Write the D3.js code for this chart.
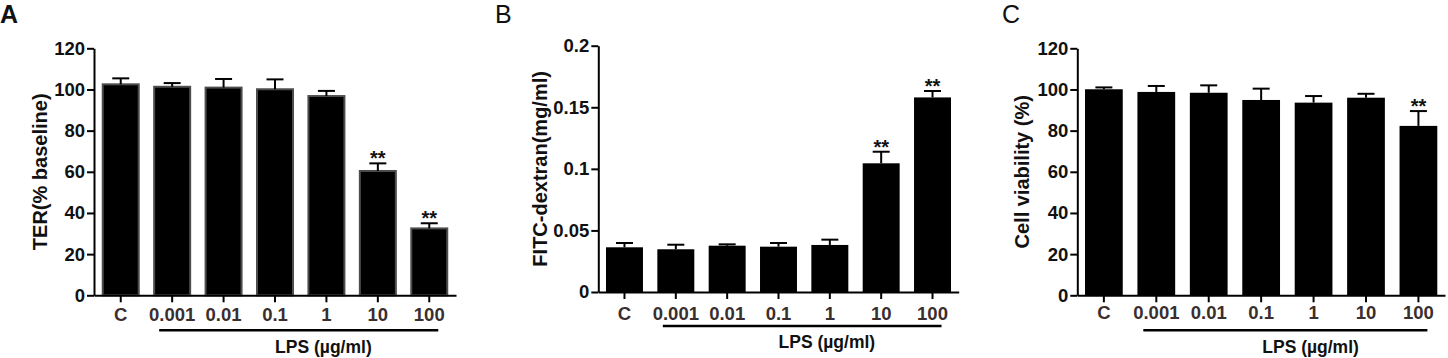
<!DOCTYPE html>
<html>
<head>
<meta charset="utf-8">
<script src="https://cdn.jsdelivr.net/npm/d3@7"></script>
<style>
  body { margin: 0; background: #fff; }
  text { font-family: "Liberation Sans", Arial, sans-serif; }
</style>
</head>
<body>
<div class="canvas"></div>
<script>
// groups on the x axis
const categories = ["C", "0.001", "0.01", "0.1", "1", "10", "100"]

// A: TER (% baseline), mean and SEM
const terMean = [102.5, 101.3, 100.9, 100.1, 96.8, 60.4, 32.5]
const terErr = [2.9, 1.8, 4.2, 4.8, 2.5, 3.7, 2.5]
const terSig = ["", "", "", "", "", "**", "**"]

// B: FITC-dextran (mg/ml)
const fitcMean = [0.0363, 0.0347, 0.0376, 0.0368, 0.0382, 0.1045, 0.158]
const fitcErr = [0.0035, 0.0037, 0.0011, 0.003, 0.0043, 0.0094, 0.0052]
const fitcSig = ["", "", "", "", "", "**", "**"]

// C: cell viability (%)
const viaMean = [100.1, 98.8, 98.4, 94.9, 93.6, 96.0, 82.3]
const viaErr = [0.9, 2.9, 3.6, 5.5, 3.2, 1.9, 7.2]
const viaSig = ["", "", "", "", "", "", "**"]

const yTicksPct = [0, 20, 40, 60, 80, 100, 120]
const yTicksFitc = [0, 0.05, 0.1, 0.15, 0.2]

const svg = d3.select(".canvas")
    .append("svg")
    .attr("width", 1448)
    .attr("height", 358)

svg.append("rect").attr("width", 1448).attr("height", 358).attr("fill", "#fff")

const panels = [
    { letter: "A", lx: 0, bold: true, x0: 94, x1: 456, top: 48.3, bottom: 295.3, ymax: 120,
      ticks: yTicksPct, mean: terMean, err: terErr, sig: terSig, title: "TER(% baseline)", tx: 40,
      pi: 0.3, po: 0.17, pad: 6, lineDy: 35, lpsDy: 51.5, barStroke: "#4d4d4d" },
    { letter: "B", lx: 495, bold: false, x0: 598.3, x1: 958.7, top: 45.7, bottom: 292, ymax: 0.2,
      ticks: yTicksFitc, mean: fitcMean, err: fitcErr, sig: fitcSig, title: "FITC-dextran(mg/ml)", tx: 540,
      pi: 0.28, po: 0.15, pad: 8, lineDy: 34, lpsDy: 49.5, barStroke: "none" },
    { letter: "C", lx: 1002, bold: false, x0: 1077.3, x1: 1445, top: 48.3, bottom: 295.3, ymax: 120,
      ticks: yTicksPct, mean: viaMean, err: viaErr, sig: viaSig, title: "Cell viability (%)", tx: 1021.5,
      pi: 0.28, po: 0.147, pad: 4, lineDy: 35, lpsDy: 51.5, barStroke: "none" }
]

panels.forEach(p => {
    const g = svg.append("g")
    const data = categories.map((c, i) => ({ cat: c, mean: p.mean[i], err: p.err[i], sig: p.sig[i] }))

    const x = d3.scaleBand()
        .domain(categories)
        .range([p.x0, p.x1])
        .paddingInner(p.pi)
        .paddingOuter(p.po)

    const y = d3.scaleLinear()
        .domain([0, p.ymax])
        .range([p.bottom, p.top])

    // panel letter
    g.append("text")
        .attr("x", p.lx)
        .attr("y", 23)
        .attr("font-size", 25)
        .attr("font-weight", p.bold ? "bold" : "normal")
        .attr("fill", "#111")
        .text(p.letter)

    // bars
    g.selectAll("rect.bar")
        .data(data)
        .enter()
        .append("rect")
        .attr("class", "bar")
        .attr("x", d => x(d.cat))
        .attr("y", d => y(d.mean))
        .attr("width", x.bandwidth())
        .attr("height", d => p.bottom - y(d.mean))
        .attr("fill", "#000")
        .attr("stroke", p.barStroke)
        .attr("stroke-width", 2)

    // error bars (upper only)
    const eb = g.selectAll("g.err")
        .data(data)
        .enter()
        .append("g")
        .attr("transform", d => `translate(${x(d.cat) + x.bandwidth() / 2}, 0)`)
    eb.append("line")
        .attr("y1", d => y(d.mean))
        .attr("y2", d => y(d.mean + d.err))
        .attr("stroke", "#000")
        .attr("stroke-width", 2)
    eb.append("line")
        .attr("x1", -8.5).attr("x2", 8.5)
        .attr("y1", d => y(d.mean + d.err))
        .attr("y2", d => y(d.mean + d.err))
        .attr("stroke", "#000")
        .attr("stroke-width", 2)
    eb.append("text")
        .attr("y", d => y(d.mean + d.err) + 2)
        .attr("text-anchor", "middle")
        .attr("font-size", 20)
        .attr("font-weight", "bold")
        .attr("fill", "#111")
        .text(d => d.sig)

    // axes
    const yAxis = d3.axisLeft(y)
        .tickValues(p.ticks)
        .tickFormat(d3.format(""))
        .tickSize(7)
        .tickSizeOuter(0)
        .tickPadding(2)
    const yg = g.append("g")
        .attr("transform", `translate(${p.x0}, 0)`)
        .call(yAxis)

    const xAxis = d3.axisBottom(x)
        .tickSize(7)
        .tickSizeOuter(0)
        .tickPadding(p.pad)
    const xg = g.append("g")
        .attr("transform", `translate(0, ${p.bottom})`)
        .call(xAxis)

    ;[yg, xg].forEach(a => {
        a.select(".domain").attr("stroke", "#000").attr("stroke-width", 2)
        a.selectAll(".tick line").attr("stroke", "#000").attr("stroke-width", 2)
        a.selectAll(".tick text")
            .attr("font-family", "'Liberation Sans', Arial, sans-serif")
            .attr("font-size", 18.5)
            .attr("font-weight", "bold")
    })
    yg.selectAll(".tick text").attr("fill", "#111")
    xg.selectAll(".tick text").attr("fill", "#3a2e2e")

    // y title
    g.append("text")
        .attr("transform", `translate(${p.tx}, ${(p.top + p.bottom) / 2}) rotate(-90)`)
        .attr("text-anchor", "middle")
        .attr("dy", "0.35em")
        .attr("font-size", 20)
        .attr("font-weight", "bold")
        .attr("fill", "#111")
        .text(p.title)

    // LPS bracket line
    const c1 = x("0.001") + x.bandwidth() / 2
    const c2 = x("100") + x.bandwidth() / 2
    g.append("line")
        .attr("x1", c1 - 13).attr("x2", c2 + 9)
        .attr("y1", p.bottom + p.lineDy).attr("y2", p.bottom + p.lineDy)
        .attr("stroke", "#000")
        .attr("stroke-width", 2.5)
    g.append("text")
        .attr("x", x("1") + x.bandwidth() / 2 - 3)
        .attr("y", p.bottom + p.lpsDy)
        .attr("dy", "0.35em")
        .attr("text-anchor", "middle")
        .attr("font-size", 17.5)
        .attr("font-weight", "bold")
        .attr("fill", "#111")
        .text("LPS (µg/ml)")
})
</script>
</body>
</html>
